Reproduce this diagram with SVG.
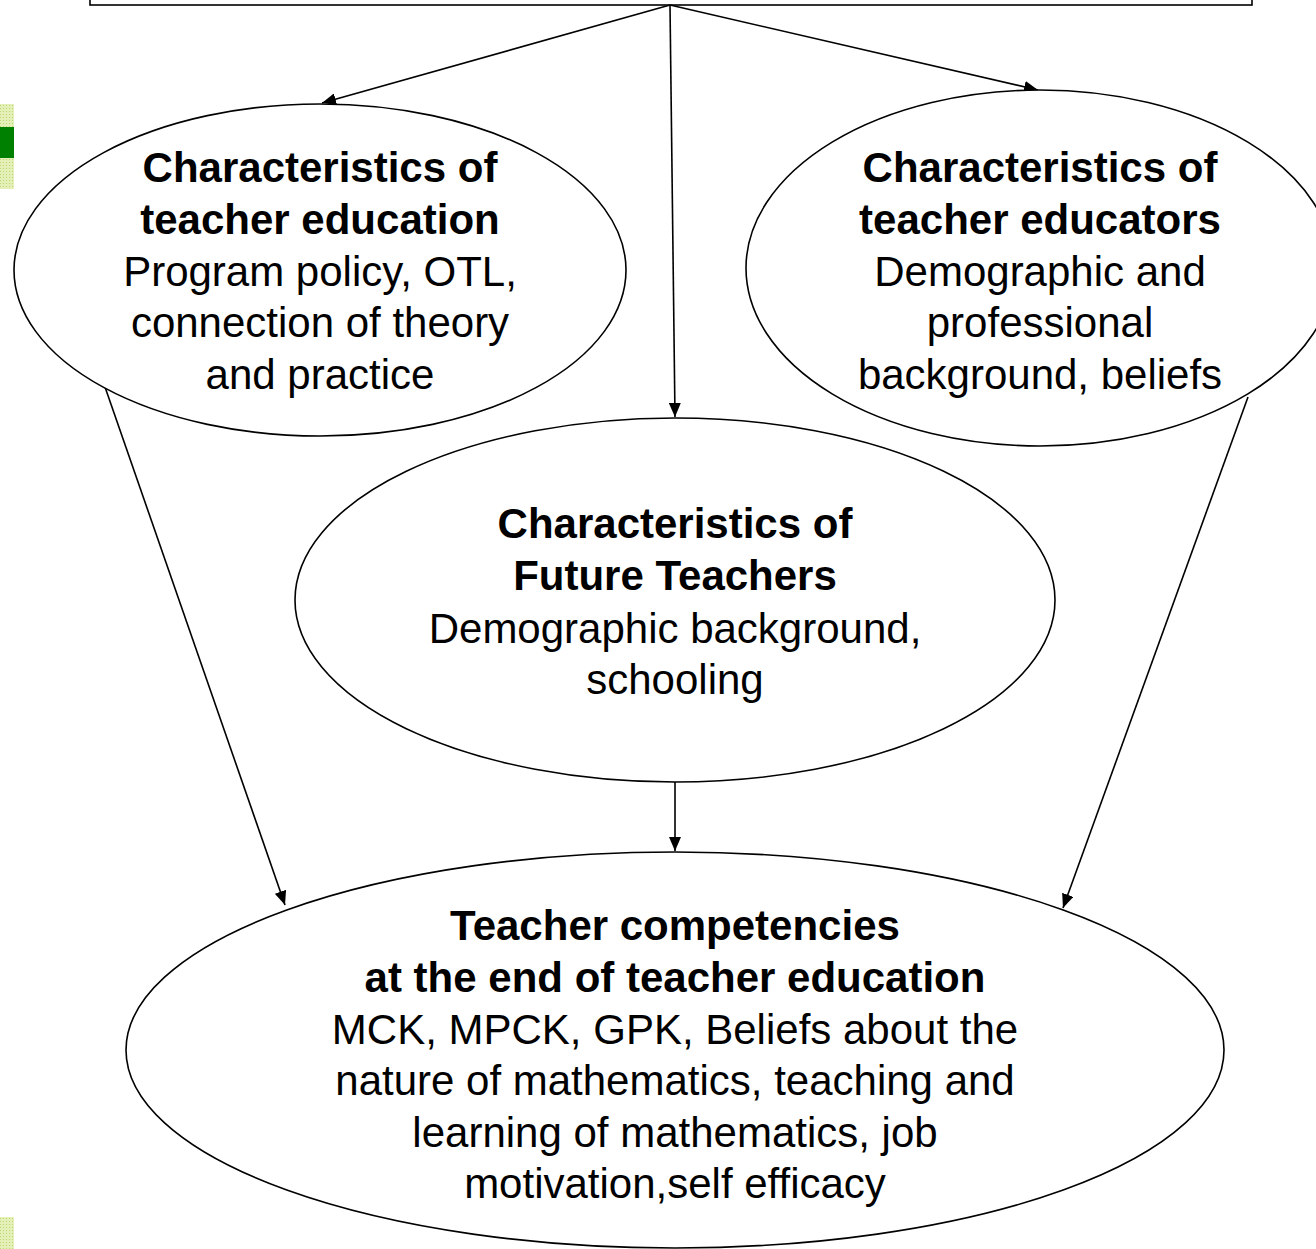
<svg xmlns="http://www.w3.org/2000/svg" width="1316" height="1249" viewBox="0 0 1316 1249">
<style>
.n{fill:#fff;stroke:#000;stroke-width:1.6}
.t{font-family:"Liberation Sans",Arial,sans-serif;font-size:42px;text-anchor:middle;fill:#000}
.b{font-weight:bold}
.c{stroke:#000;stroke-width:1.6;fill:none;marker-end:url(#ah)}
</style>
<defs>
<marker id="ah" viewBox="0 0 14 12" refX="14" refY="6" markerWidth="14" markerHeight="12" markerUnits="userSpaceOnUse" orient="auto">
<path d="M0,0 L14,6 L0,12 z" fill="#000"/>
</marker>
<pattern id="lg" width="3" height="3" patternUnits="userSpaceOnUse">
<rect width="3" height="3" fill="#e4f0b8"/>
<rect width="1" height="1" fill="#b8d870"/>
</pattern>
</defs>
<rect width="1316" height="1249" fill="#fff"/>
<rect x="0" y="104" width="14" height="85" fill="url(#lg)"/>
<rect x="0" y="127" width="14" height="31" fill="#008000"/>
<rect x="0" y="1217" width="14" height="32" fill="url(#lg)"/>
<g id="top"><rect class="n" x="90" y="-20" width="1162" height="25"/></g>
<g id="connectors">
<line class="c" x1="670" y1="5" x2="322" y2="103"/>
<line class="c" x1="670" y1="5" x2="675" y2="417"/>
<line class="c" x1="670" y1="5" x2="1038" y2="90"/>
<line class="c" x1="105" y1="387" x2="285" y2="905"/>
<line class="c" x1="1248" y1="397" x2="1063" y2="908"/>
<line class="c" x1="675" y1="782" x2="675" y2="851"/>
</g>
<g id="n1">
<ellipse class="n" cx="320" cy="270" rx="306" ry="166"/>
<text class="t b" x="320" y="182">Characteristics of</text>
<text class="t b" x="320" y="234">teacher education</text>
<text class="t" x="320" y="286">Program policy, OTL,</text>
<text class="t" x="320" y="337">connection of theory</text>
<text class="t" x="320" y="389">and practice</text>
</g>
<g id="n2">
<ellipse class="n" cx="1040" cy="268" rx="294" ry="178"/>
<text class="t b" x="1040" y="182">Characteristics of</text>
<text class="t b" x="1040" y="234">teacher educators</text>
<text class="t" x="1040" y="286">Demographic and</text>
<text class="t" x="1040" y="337">professional</text>
<text class="t" x="1040" y="389">background, beliefs</text>
</g>
<g id="n3">
<ellipse class="n" cx="675" cy="600" rx="380" ry="182"/>
<text class="t b" x="675" y="538">Characteristics of</text>
<text class="t b" x="675" y="590">Future Teachers</text>
<text class="t" x="675" y="643">Demographic background,</text>
<text class="t" x="675" y="694">schooling</text>
</g>
<g id="n4">
<ellipse class="n" cx="675" cy="1050" rx="549" ry="198"/>
<text class="t b" x="675" y="940">Teacher competencies</text>
<text class="t b" x="675" y="992">at the end of teacher education</text>
<text class="t" x="675" y="1044">MCK, MPCK, GPK, Beliefs about the</text>
<text class="t" x="675" y="1095">nature of mathematics, teaching and</text>
<text class="t" x="675" y="1147">learning of mathematics, job</text>
<text class="t" x="675" y="1198">motivation,self efficacy</text>
</g>
</svg>
